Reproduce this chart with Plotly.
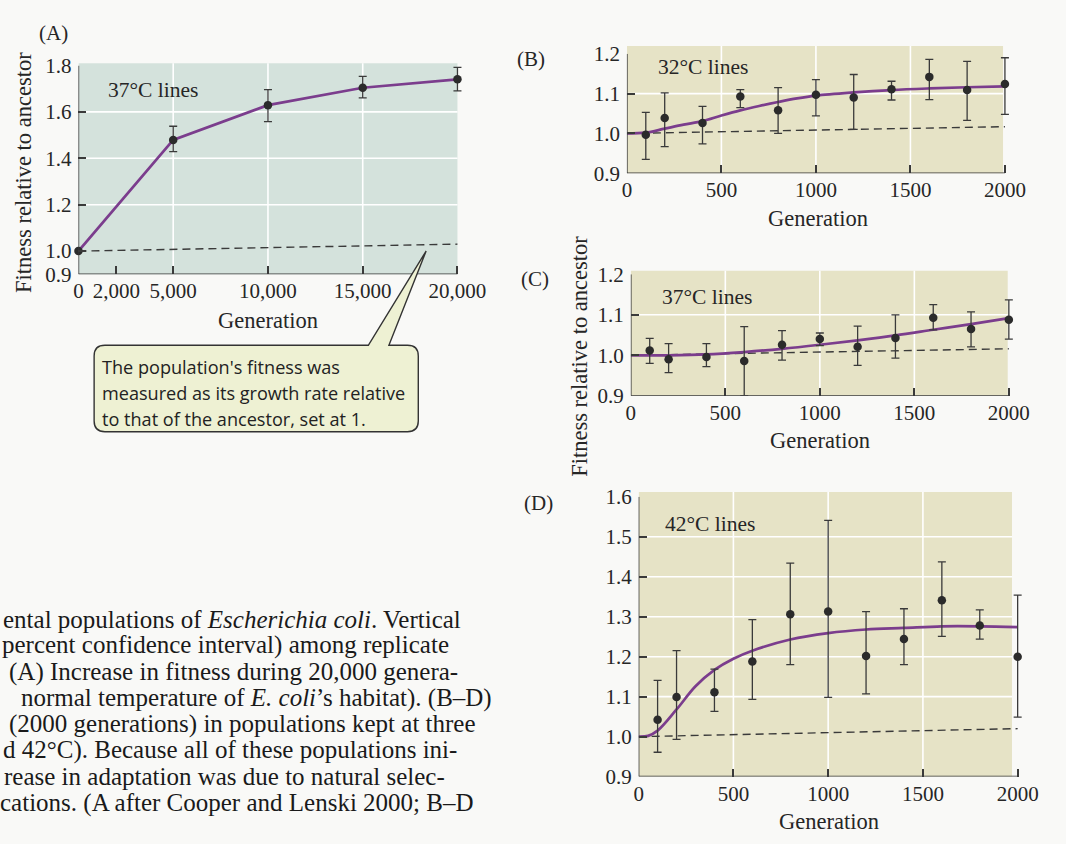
import plotly.graph_objects as go

W, H = 1066, 844


def px(x, y):
    return x / W, 1 - y / H


# ---------------- data ----------------
# Panel A: 37 C lines, 20,000 generations
A_gen = [0, 5000, 10000, 15000, 20000]
A_fit = [1.000, 1.479, 1.629, 1.704, 1.740]
A_hi = [1.000, 1.538, 1.696, 1.753, 1.792]
A_lo = [1.000, 1.429, 1.558, 1.660, 1.690]
A_ref_gen = [0, 20000]
A_ref = [1.00, 1.03]
A_xticks = [0, 2000, 5000, 10000, 15000, 20000]
A_xlabels = ["0", "2,000", "5,000", "10,000", "15,000", "20,000"]
A_yticks = [0.9, 1.0, 1.2, 1.4, 1.6, 1.8]
A_ylabels = ["0.9", "1.0", "1.2", "1.4", "1.6", "1.8"]
A_xgrid = [5000, 10000, 15000]
A_ygrid = [1.2, 1.4, 1.6]

# Panels B-D: 2000 generations
GEN = [100, 200, 400, 600, 800, 1000, 1200, 1400, 1600, 1800, 2000]

B_fit = [0.997, 1.039, 1.026, 1.093, 1.058, 1.097, 1.090, 1.111, 1.142, 1.109, 1.124]
B_hi = [1.053, 1.102, 1.068, 1.110, 1.115, 1.135, 1.148, 1.131, 1.186, 1.181, 1.190]
B_lo = [0.935, 0.967, 0.974, 1.065, 1.000, 1.044, 1.010, 1.084, 1.085, 1.033, 1.048]
B_curve_gen = [0, 100, 200, 300, 400, 500, 600, 700, 800, 900, 1000, 1200, 1400, 1600, 1800, 2000]
B_curve = [1.000, 1.002, 1.012, 1.022, 1.031, 1.045, 1.058, 1.069, 1.079, 1.088, 1.095, 1.103, 1.109,
           1.113, 1.116, 1.118]
B_ref = [1.000, 1.017]

C_fit = [1.012, 0.990, 0.996, 0.986, 1.026, 1.040, 1.021, 1.043, 1.093, 1.065, 1.088]
C_hi = [1.042, 1.029, 1.029, 1.071, 1.061, 1.055, 1.072, 1.100, 1.125, 1.107, 1.137]
C_lo = [0.980, 0.957, 0.972, 0.900, 0.988, 1.024, 0.975, 0.993, 1.063, 1.021, 1.040]
C_curve_gen = [0, 200, 400, 600, 800, 1000, 1200, 1400, 1600, 1800, 2000]
C_curve = [1.000, 1.000, 1.002, 1.008, 1.016, 1.026, 1.037, 1.049, 1.063, 1.077, 1.092]
C_ref = [1.000, 1.016]

D_fit = [1.042, 1.099, 1.111, 1.188, 1.306, 1.313, 1.202, 1.244, 1.341, 1.278, 1.200]
D_hi = [1.141, 1.215, 1.169, 1.293, 1.434, 1.541, 1.313, 1.320, 1.437, 1.317, 1.354]
D_lo = [0.961, 0.993, 1.063, 1.093, 1.180, 1.098, 1.107, 1.180, 1.251, 1.244, 1.049]
D_curve_gen = [0, 50, 100, 200, 300, 400, 500, 600, 800, 1000, 1200, 1400, 1600, 1800, 2000]
D_curve = [1.000, 1.002, 1.015, 1.068, 1.126, 1.167, 1.195, 1.215, 1.243, 1.259, 1.268, 1.272, 1.276,
           1.276, 1.274]
D_ref = [1.000, 1.020]

REF_GEN = [0, 2000]
S_xticks = [0, 500, 1000, 1500, 2000]
S_xlabels = ["0", "500", "1000", "1500", "2000"]
S_xgrid = [500, 1000, 1500]
BC_yticks = [0.9, 1.0, 1.1, 1.2]
BC_ylabels = ["0.9", "1.0", "1.1", "1.2"]
BC_ygrid = [1.1]
D_yticks = [0.9, 1.0, 1.1, 1.2, 1.3, 1.4, 1.5, 1.6]
D_ylabels = ["0.9", "1.0", "1.1", "1.2", "1.3", "1.4", "1.5", "1.6"]
D_ygrid = [1.1, 1.2, 1.3, 1.4, 1.5]

# ---------------- styles ----------------
SERIF = "Liberation Serif"
SANS = "Open Sans"
TXT = "#262626"
AX = "#3a3a3a"
PURPLE = "#7b3d8d"
DOT = "#2b2b2b"
BG_A = "#d4e2dc"
BG_S = "#e6e3c6"
PAGE = "#f9f9f7"

fig = go.Figure()


def add_panel(xa, ya, gens, fit, hi, lo, curve_gen, curve, ref_gen, ref, connect=False):
    ax = "x" if xa == "xaxis" else "x" + xa[5:]
    ay = "y" if ya == "yaxis" else "y" + ya[5:]
    plus = [h - f for h, f in zip(hi, fit)]
    minus = [f - l for f, l in zip(fit, lo)]
    fig.add_trace(go.Scatter(x=ref_gen, y=ref, mode="lines", xaxis=ax, yaxis=ay,
                             line=dict(color=AX, width=1.4, dash="8px,5px"), cliponaxis=False,
                             hoverinfo="skip", showlegend=False))
    if curve is not None:
        fig.add_trace(go.Scatter(x=curve_gen, y=curve, mode="lines", xaxis=ax, yaxis=ay,
                                 line=dict(color=PURPLE, width=2.7, shape="spline", smoothing=1.0),
                                 cliponaxis=False, hoverinfo="skip", showlegend=False))
    fig.add_trace(go.Scatter(x=gens, y=fit, mode="lines+markers" if connect else "markers",
                             xaxis=ax, yaxis=ay, cliponaxis=False,
                             line=dict(color=PURPLE, width=2.7),
                             marker=dict(color=DOT, size=8.5),
                             error_y=dict(type="data", symmetric=False, array=plus, arrayminus=minus,
                                          color=AX, thickness=1.3, width=4),
                             showlegend=False))
    return ax, ay


panels = []
panels.append(add_panel("xaxis", "yaxis", A_gen, A_fit, A_hi, A_lo, None, None, A_ref_gen, A_ref,
                        connect=True))
panels.append(add_panel("xaxis2", "yaxis2", GEN, B_fit, B_hi, B_lo, B_curve_gen, B_curve, REF_GEN, B_ref))
panels.append(add_panel("xaxis3", "yaxis3", GEN, C_fit, C_hi, C_lo, C_curve_gen, C_curve, REF_GEN, C_ref))
panels.append(add_panel("xaxis4", "yaxis4", GEN, D_fit, D_hi, D_lo, D_curve_gen, D_curve, REF_GEN, D_ref))

# pixel geometry of each plotting area: (left, x at last tick, top, bottom)
geom = {
    1: (75, 462, 55, 270),
    2: (635, 1021, 43, 166),
    3: (639, 1025, 270, 395),
    4: (647, 1034, 499, 787),
}
XPAD = 1.03  # a little room past the last tick so end error-bar caps are not cut
ranges = {
    1: ([0, 20000 * XPAD], [0.9, 1.8], A_xticks, A_xlabels, A_yticks, A_ylabels),
    2: ([0, 2000 * XPAD], [0.9, 1.2], S_xticks, S_xlabels, BC_yticks, BC_ylabels),
    3: ([0, 2000 * XPAD], [0.9, 1.2], S_xticks, S_xlabels, BC_yticks, BC_ylabels),
    4: ([0, 2000 * XPAD], [0.9, 1.6], S_xticks, S_xlabels, D_yticks, D_ylabels),
}
layout = {}
for i in range(1, 5):
    l, r, t, b = geom[i]
    r = l + (r - l) * XPAD
    xr, yr, xt, xl, yt, yl = ranges[i]
    xn = "xaxis" if i == 1 else f"xaxis{i}"
    yn = "yaxis" if i == 1 else f"yaxis{i}"
    ax, ay = panels[i - 1]
    common = dict(showgrid=False, zeroline=False, showline=False,
                  ticks="inside", ticklen=8, tickcolor=AX, tickwidth=1.5, fixedrange=True,
                  tickfont=dict(family=SERIF, size=21, color=TXT))
    layout[xn] = dict(domain=[l / W, r / W], range=xr, tickmode="array", tickvals=xt, ticktext=xl,
                      anchor=ay, ticklabelstandoff=2, **common)
    layout[yn] = dict(domain=[1 - b / H, 1 - t / H], range=yr, tickmode="array", tickvals=yt, ticktext=yl,
                      anchor=ax, ticklabelstandoff=6, **common)

fig.update_layout(**layout)

# backgrounds, white grid lines and axis lines (axis lines stop at the last tick)
bg_ext = {1: 1.01, 2: 1.065, 3: 1.03, 4: 1.017}
bg_right = {1: 1.0, 2: 0.995, 3: 0.997, 4: 0.985}
grids = {1: (A_xgrid, A_ygrid), 2: (S_xgrid, BC_ygrid), 3: (S_xgrid, BC_ygrid), 4: (S_xgrid, D_ygrid)}
shapes = []
for i in range(1, 5):
    ax, ay = panels[i - 1]
    ye = bg_ext[i]
    xmax = ranges[i][0][1] / XPAD
    xe = xmax * bg_right[i]
    ymin, ymax = ranges[i][1]
    shapes.append(dict(type="rect", xref=ax, yref=f"{ay} domain", x0=0, x1=xe, y0=0, y1=ye,
                       fillcolor=BG_A if i == 1 else BG_S, line=dict(width=0), layer="below"))
    gx, gy = grids[i]
    for g in gx:
        shapes.append(dict(type="line", xref=ax, yref=f"{ay} domain", x0=g, x1=g, y0=0, y1=ye,
                           line=dict(color="white", width=1.6), layer="below"))
    for g in gy:
        shapes.append(dict(type="line", xref=ax, yref=ay, x0=0, x1=xe, y0=g, y1=g,
                           line=dict(color="white", width=1.6), layer="below"))
    # x axis line and y axis line
    shapes.append(dict(type="line", xref=ax, yref=ay, x0=0, x1=xmax, y0=ymin, y1=ymin,
                       line=dict(color=AX, width=1.5), layer="above"))
    shapes.append(dict(type="line", xref=ax, yref=ay, x0=0, x1=0, y0=ymin, y1=ymax,
                       line=dict(color=AX, width=1.5), layer="above"))

# callout balloon
bl, br, bt, bb, rad = 91, 422, 343, 432, 11
tail_l, tail_r, tip = 371, 392, (430, 246)


def P(x, y):
    a, b = px(x, y)
    return f"{a:.5f},{b:.5f}"


path = (f"M {P(bl + rad, bt)} L {P(tail_l, bt)} L {P(*tip)} L {P(tail_r, bt)} L {P(br - rad, bt)} "
        f"Q {P(br, bt)} {P(br, bt + rad)} L {P(br, bb - rad)} Q {P(br, bb)} {P(br - rad, bb)} "
        f"L {P(bl + rad, bb)} Q {P(bl, bb)} {P(bl, bb - rad)} L {P(bl, bt + rad)} Q {P(bl, bt)} {P(bl + rad, bt)} Z")
shapes.append(dict(type="path", xref="paper", yref="paper", path=path, fillcolor="#eef1d3",
                   line=dict(color="#333333", width=1.4), layer="above"))
fig.update_layout(shapes=shapes)

# ---------------- text ----------------
ann = []


def T(x, y, text, size, family=SERIF, anchor="center", angle=0, color=TXT):
    a, b = px(x, y)
    ann.append(dict(x=a, y=b, xref="paper", yref="paper", text=text, showarrow=False,
                    xanchor=anchor, yanchor="middle", textangle=angle, borderpad=0,
                    font=dict(family=family, size=size, color=color)))


T(50, 22, "(A)", 21)
T(151, 80, "37°C lines", 21.5)
T(19, 165, "Fitness relative to ancestor", 22.5, angle=-90)
T(269, 318, "Generation", 22.5)

T(537, 48, "(B)", 21)
T(713, 57, "32°C lines", 21.5)
T(830, 213, "Generation", 22.5)

T(541, 275, "(C)", 21)
T(717, 293, "37°C lines", 21.5)
T(832, 441, "Generation", 22.5)

T(545, 505, "(D)", 21)
T(720, 527, "42°C lines", 21.5)
T(841, 833, "Generation", 22.5)

T(587, 354, "Fitness relative to ancestor", 22.5, angle=-90)

callout_lines = ["The population's fitness was",
                 "measured as its growth rate relative",
                 "to that of the ancestor, set at 1."]
for k, line in enumerate(callout_lines):
    T(98, 365 + 26.7 * k, line, 18.1, family=SANS, anchor="left", color="#222222")

caption_lines = [
    (-3, "ental populations of <i>Escherichia coli</i>. Vertical"),
    (-4, "percent confidence interval) among replicate"),
    (3, "(A) Increase in fitness during 20,000 genera-"),
    (15, "normal temperature of <i>E. coli</i>’s habitat). (B–D)"),
    (3, "(2000 generations) in populations kept at three"),
    (-3, "d 42°C). Because all of these populations ini-"),
    (-2, "rease in adaptation was due to natural selec-"),
    (-6, "cations. (A after Cooper and Lenski 2000; B–D"),
]
for k, (x0, line) in enumerate(caption_lines):
    T(x0, 625 + 27 * k, line, 25, anchor="left", color="#1a1a1a")

fig.update_layout(annotations=ann, width=W, height=H, autosize=False,
                  margin=dict(l=0, r=0, t=0, b=0),
                  paper_bgcolor=PAGE, plot_bgcolor="rgba(0,0,0,0)", showlegend=False)

fig.write_html("out.html", config={"responsive": False, "displayModeBar": False},
               post_script="document.body.style.margin='0';document.body.style.padding='0';"
                           "document.body.style.overflow='hidden';"
                           "document.documentElement.style.overflow='hidden';")
